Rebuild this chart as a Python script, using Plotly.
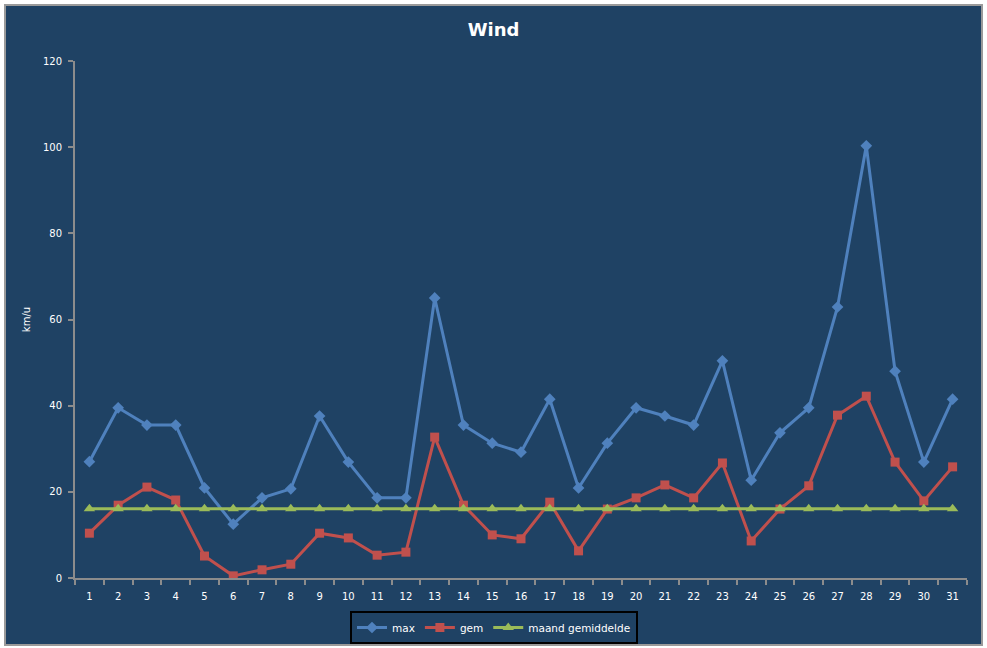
import plotly.graph_objects as go

days = list(range(1, 32))
max_wind = [27, 39.5, 35.5, 35.5, 20.9, 12.5, 18.6, 20.7, 37.6, 26.9, 18.6, 18.6, 65, 35.5, 31.3,
            29.2, 41.5, 20.9, 31.3, 39.5, 37.6, 35.5, 50.4, 22.7, 33.7, 39.5, 62.9, 100.3, 48, 26.9, 41.5]
gem_wind = [10.4, 16.9, 21.1, 18.1, 5.1, 0.5, 1.9, 3.2, 10.4, 9.3, 5.3, 6.0, 32.7, 16.9, 10.0,
            9.1, 17.6, 6.3, 16.0, 18.6, 21.6, 18.6, 26.7, 8.6, 16.0, 21.4, 37.8, 42.2, 26.9, 17.9, 25.8]
maand_gem = [16.1] * 31
y_ticks = [0, 20, 40, 60, 80, 100, 120]

BG = "#1F4264"
AX = "#8C8C8C"
FONT = "DejaVu Sans"

fig = go.Figure()
fig.add_trace(go.Scatter(x=days, y=max_wind, name="max", mode="lines+markers",
                         line=dict(color="#4F81BD", width=3),
                         marker=dict(symbol="diamond", size=9, color="#4F81BD")))
fig.add_trace(go.Scatter(x=days, y=gem_wind, name="gem", mode="lines+markers",
                         line=dict(color="#C0504D", width=3),
                         marker=dict(symbol="square", size=9, color="#C0504D")))
fig.add_trace(go.Scatter(x=days, y=maand_gem, name="maand gemiddelde", mode="lines+markers",
                         line=dict(color="#9BBB59", width=3),
                         marker=dict(symbol="triangle-up", size=10, color="#9BBB59")))

fig.add_shape(type="rect", xref="paper", yref="paper",
              x0=-70/892, x1=1 + 15/892, y0=-67/517, y1=1 + 56/517,
              fillcolor=BG, line=dict(color="#9A9A9A", width=2), layer="below")

fig.update_layout(
    width=987, height=648,
    margin=dict(l=75, r=20, t=61, b=70, autoexpand=False),
    paper_bgcolor="white", plot_bgcolor=BG,
    title=dict(text="<b>Wind</b>", x=0.5, xanchor="center", y=1 - 30/648, yanchor="middle",
               font=dict(family=FONT, size=18, color="white")),
    font=dict(family=FONT, size=10, color="white"),
    showlegend=True,
    legend=dict(orientation="h", xref="container", yref="container",
                x=494/987, xanchor="center", y=1 - 611/648, yanchor="top",
                bgcolor=BG, bordercolor="black", borderwidth=2,
                font=dict(family=FONT, size=10.5, color="white"),
                itemwidth=30, tracegroupgap=0),
)
fig.update_xaxes(range=[0.5, 31.5], tickmode="array", tickvals=days, ticktext=[str(d) for d in days],
                 ticks="", showgrid=False, zeroline=False, showline=True, linecolor=AX, linewidth=2,
                 ticklabelstandoff=8,
                 tickfont=dict(family=FONT, size=10, color="white"),
                 minor=dict(tick0=0.5, dtick=1, ticks="outside", ticklen=5, tickcolor=AX, tickwidth=2, showgrid=False))
fig.update_yaxes(range=[0, 120], tickmode="array", tickvals=y_ticks, ticks="outside", ticklen=5,
                 tickcolor=AX, tickwidth=2, showgrid=False, zeroline=False, showline=True,
                 linecolor=AX, linewidth=2, ticklabelstandoff=4,
                 title=dict(text="km/u", font=dict(family=FONT, size=10, color="white"), standoff=10),
                 tickfont=dict(family=FONT, size=10, color="white"))

fig.write_html("out.html", config={"displayModeBar": False},
               post_script="document.body.style.margin='0';")
